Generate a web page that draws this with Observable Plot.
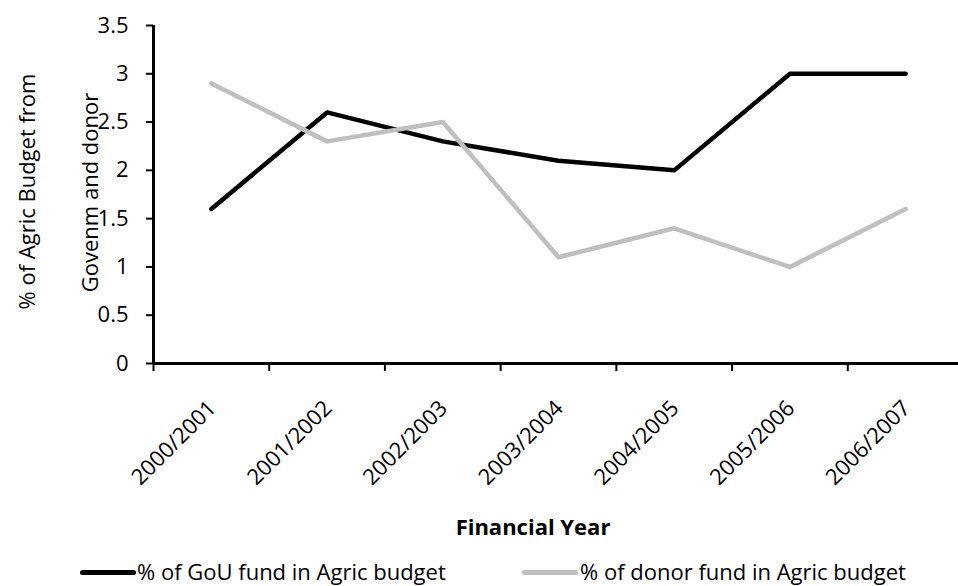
<!DOCTYPE html>
<html>
<head>
<meta charset="utf-8">
<script src="https://cdn.jsdelivr.net/npm/d3@7"></script>
<script src="https://cdn.jsdelivr.net/npm/@observablehq/plot@0.6"></script>
<style>
  html, body { margin: 0; padding: 0; background: #fff; overflow: hidden; }
  #wrap { position: relative; width: 958px; height: 586px; font-family: "Open Sans", sans-serif; }
  .leg { position: absolute; font-size: 22px; line-height: 22px; color: #000; white-space: nowrap; }
  .sw { position: absolute; height: 5px; border-radius: 3px; }
</style>
</head>
<body>
<div id="wrap"></div>
<script>
const years = ["2000/2001", "2001/2002", "2002/2003", "2003/2004", "2004/2005", "2005/2006", "2006/2007"];
const gouFund = [1.6, 2.6, 2.3, 2.1, 2.0, 3.0, 3.0];
const donorFund = [2.9, 2.3, 2.5, 1.1, 1.4, 1.0, 1.6];
const yTicks = [0, 0.5, 1, 1.5, 2, 2.5, 3, 3.5];
const seriesNames = ["% of GoU fund in Agric budget", "% of donor fund in Agric budget"];
const seriesColors = ["#000000", "#BFBFBF"];
const yTitle = ["% of Agric Budget from", "Govenm and donor"];
const xTitle = "Financial Year";

const rows = years.map((y, i) => ({pos: i + 0.5, year: y, gou: gouFund[i], donor: donorFund[i]}));
const boundaries = d3.range(0, years.length + 1);

const chart = Plot.plot({
  width: 958,
  height: 550,
  marginLeft: 153,
  marginRight: 0,
  marginTop: 25,
  marginBottom: 187,
  style: {fontFamily: "Open Sans, sans-serif", fontSize: "22px", color: "#000", background: "#fff"},
  x: {type: "linear", domain: [0, years.length], range: [153, 963]},
  y: {domain: [0, 3.5]},
  marks: [
    Plot.axisY({ticks: yTicks, tickSize: 7, tickPadding: 18, tickFormat: d => String(d), label: null, strokeWidth: 2, fontSize: 22}),
    Plot.axisX({ticks: boundaries, tickSize: 8, tickFormat: () => "", label: null, strokeWidth: 2}),
    Plot.ruleY([0], {stroke: "#000", strokeWidth: 3}),
    Plot.ruleX([0], {stroke: "#000", strokeWidth: 3}),
    Plot.text(rows, {x: "pos", y: () => 0, text: "year", rotate: -45, textAnchor: "end", lineAnchor: "middle", dy: 41, dx: 1, fontSize: 22}),
    Plot.text([xTitle], {text: d => d, frameAnchor: "bottom", dx: -23, dy: 164, lineAnchor: "middle", fontWeight: "bold", fontSize: 22}),
    Plot.text([yTitle[0]], {text: d => d, frameAnchor: "left", rotate: -90, dx: -126, dy: -3, textAnchor: "middle", lineAnchor: "middle", fontSize: 22}),
    Plot.text([yTitle[1]], {text: d => d, frameAnchor: "left", rotate: -90, dx: -63, dy: -2, textAnchor: "middle", lineAnchor: "middle", fontSize: 22}),
    Plot.line(rows, {x: "pos", y: "gou", stroke: seriesColors[0], strokeWidth: 4.5, strokeLinecap: "round", strokeLinejoin: "round"}),
    Plot.line(rows, {x: "pos", y: "donor", stroke: seriesColors[1], strokeWidth: 4.5, strokeLinecap: "round", strokeLinejoin: "round"})
  ]
});

const wrap = document.getElementById("wrap");
wrap.appendChild(chart);

const legendPos = [{line: 80, text: 137}, {line: 522, text: 580}];
seriesNames.forEach((name, i) => {
  const sw = document.createElement("div");
  sw.className = "sw";
  sw.style.left = legendPos[i].line + "px";
  sw.style.width = "56px";
  sw.style.top = "570px";
  sw.style.background = seriesColors[i];
  wrap.appendChild(sw);
  const t = document.createElement("div");
  t.className = "leg";
  t.style.left = legendPos[i].text + "px";
  t.style.top = "560px";
  t.textContent = name;
  wrap.appendChild(t);
});
</script>
</body>
</html>
